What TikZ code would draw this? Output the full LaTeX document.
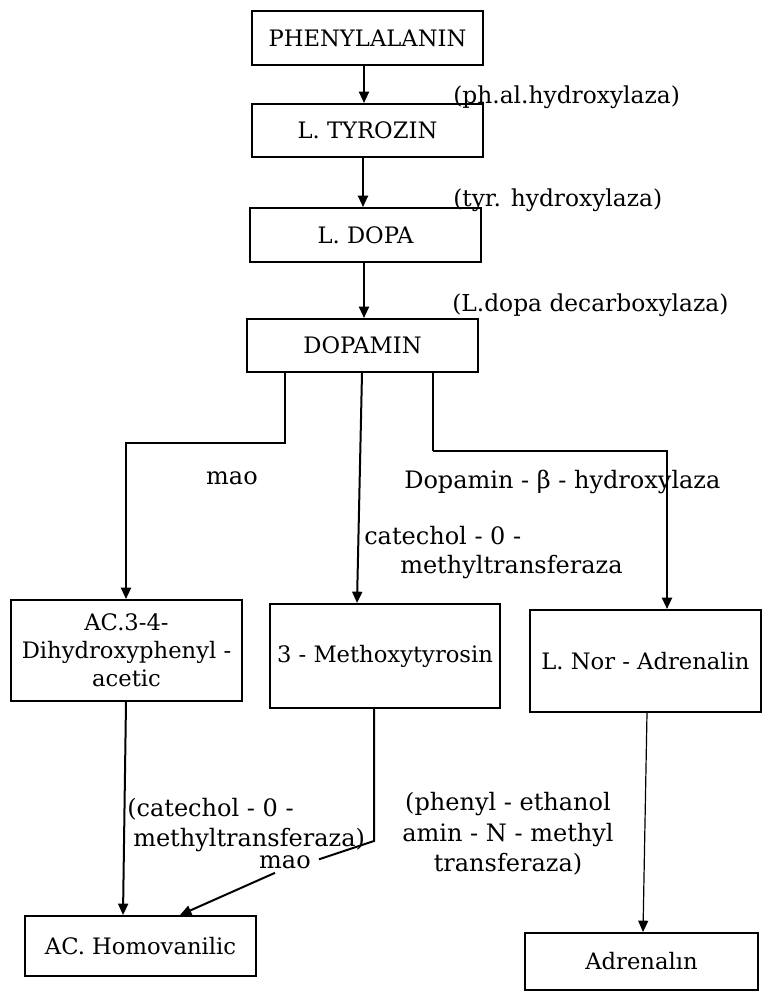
\documentclass[tikz,border=0pt]{standalone}
\usepackage{fontspec}
\setmainfont{DejaVu Serif}
\usetikzlibrary{arrows.meta}
\tikzset{
  box/.style={draw, line width=1.5pt, rectangle, inner sep=2pt, align=center,
    font=\fontsize{17}{21}\selectfont},
  lbl/.style={inner sep=0pt, font=\fontsize{18}{22}\selectfont},
  toplbl/.style={inner sep=0pt, font=\fontsize{17.5}{22}\selectfont, anchor=west},
  link/.style={line width=1.5pt},
  thin link/.style={line width=0.9pt},
  arr/.style={-{Triangle[length=8.5pt,width=7.5pt]}}
}
\begin{document}
\begin{tikzpicture}[x=0.75pt,y=-0.75pt]
\useasboundingbox (0,0) rectangle (763,992);
% boxes
\node[box, minimum width=173.25pt, minimum height=40.5pt] (phe) at (367.5,38) {PHENYLALANIN};
\node[box, minimum width=173.25pt, minimum height=39.75pt] (tyr) at (367.5,130.5) {L. TYROZIN};
\node[box, minimum width=173.25pt, minimum height=40.5pt] (dopa) at (365.5,235) {L. DOPA};
\node[box, minimum width=173.25pt, minimum height=39.75pt] (dopamin) at (362.5,345.5) {DOPAMIN};
\node[box, minimum width=173.25pt, minimum height=75.75pt] (ac) at (126.5,650.5) {AC.3-4-\\Dihydroxyphenyl -\\acetic};
\node[box, minimum width=172.5pt, minimum height=78pt] (meth) at (385,656) {3 - Methoxytyrosin};
\node[box, minimum width=173.25pt, minimum height=76.5pt] (nor) at (645.5,661) {L. Nor - Adrenalin};
\node[box, minimum width=173.25pt, minimum height=45pt] (homo) at (140.5,946) {AC. Homovanilic};
\node[box, minimum width=174.75pt, minimum height=42.75pt] (adr) at (641.5,961.5) {Adrenalın};
% labels
\node[toplbl] (l1) at (453,97) {(ph.al.hydroxylaza)};
\node[toplbl] (l2) at (453,200) {(tyr. hydroxylaza)};
\node[toplbl] (l3) at (452,305) {(L.dopa decarboxylaza)};
\node[lbl] (mao1) at (232,478) {mao};
\node[lbl, anchor=west] (dbh) at (404,482) {Dopamin - β - hydroxylaza};
\node[lbl, anchor=west, align=left] (comt1) at (364,552.5) {catechol - 0 -\\\hspace*{27pt}methyltransferaza};
\node[lbl, anchor=west, align=left] (comt2) at (127,825) {(catechol - 0 -\\\hspace*{4.5pt}methyltransferaza)};
\node[lbl, align=center, font=\fontsize{18}{23}\selectfont] (pnmt) at (508,834) {(phenyl - ethanol\\amin - N - methyl\\transferaza)};
\node[lbl] (mao2) at (285,862) {mao};
% connectors
\draw[link,arr] (phe.south -| 364,0) -- (tyr.north -| 364,0);
\draw[link,arr] (tyr.south -| 363,0) -- (dopa.north -| 363,0);
\draw[link,arr] (dopa.south -| 364,0) -- (dopamin.north -| 364,0);
\draw[link,arr] (dopamin.south -| 285,0) -- (285,443) -- (126,443) -- (ac.north -| 126,0);
\draw[link,arr] (dopamin.south -| 362,0) -- (meth.north -| 357,0);
\draw[thin link] (dopamin.south -| 433,0) -- (433,451);
\draw[link,arr] (433,451) -- (667,451) -- (nor.north -| 667,0);
\draw[link,arr] (ac.south -| 126,0) -- (homo.north -| 123,0);
\draw[link] (meth.south -| 374,0) -- (374,841) -- ([xshift=6pt,yshift=2pt]mao2.east);
\draw[link,arr] ([xshift=-7.5pt,yshift=-3pt]mao2.south) -- (homo.north -| 180,0);
\draw[thin link,arr] (nor.south -| 647,0) -- (adr.north -| 643,0);
\end{tikzpicture}
\end{document}
